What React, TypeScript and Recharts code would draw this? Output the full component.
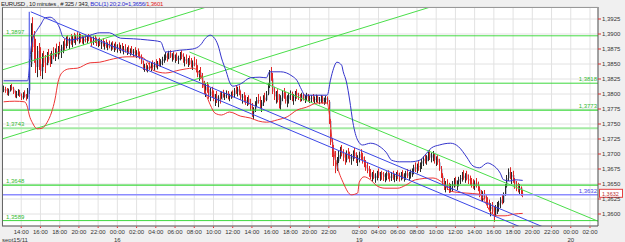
import React from 'react';
import { ComposedChart, Bar, Line, XAxis, YAxis, CartesianGrid, ReferenceLine } from 'recharts';

const FONT = '"Liberation Sans", Arial, sans-serif';

// bar values are pips above 1.3500 (10 minute bars, slot 1..325)
const BASE = 1.35;
const toPrice = (v: number) => BASE + v / 10000;

const barHigh = [
  314, 312, 310, 309, 315, 317, 312, 306, 305, 308, 307, 301, 303, 306, 300, 310,
  358, 418, 428, 405, 392, 380, 385, 378, 368, 372, 365,
  370, 375, 368, 372, 378, 376, 384, 380, 387, 382, 388,
  392, 396, 398, 394, 400, 397, 402, 399, 403, 401,
  400, 398, 396, 399, 397, 400, 398, 395, 396, 398, 394,
  392, 394, 390, 393, 388, 391, 386, 389,
  386, 388, 384, 387, 383, 386, 382, 385, 380, 383, 378,
  381, 376, 380, 375, 378, 373, 376, 371,
  366, 356, 350, 352, 348, 353,
  352, 356, 353, 358, 355, 360, 358, 362,
  366, 370, 368, 372, 373, 368, 371, 366, 369,
  364, 370, 373, 368, 362, 366, 360, 364,
  360, 356, 362, 358, 348, 340, 345,
  335, 322, 318, 320, 316, 310,
  312, 306, 300, 305, 298, 303,
  304, 307, 302, 306, 305, 300, 304, 306,
  310, 315, 312, 314, 306, 300, 303, 298, 295, 298, 292,
  285, 278, 288,
  295, 300, 296, 290, 298, 302, 305,
  318, 340, 345, 335,
  312, 305, 308, 300, 298, 306, 310, 304, 298, 302, 306, 304, 300, 305, 308,
  302, 300, 302, 301, 298, 302, 300, 297,
  298, 300, 296, 299, 298, 295, 298, 297, 294, 297, 296,
  290, 258, 225, 215, 205, 195,
  205, 212, 215, 208, 202, 206, 210, 204, 200,
  206, 210, 203, 198, 204, 208, 202, 196, 190, 186,
  180, 175, 170, 173, 168, 172, 176, 170,
  172, 170, 168, 171, 173, 168, 170, 172, 167, 170, 173, 169,
  170, 173, 168, 172, 175, 170, 174, 176,
  182, 186, 184, 188, 186,
  192, 196, 200, 198, 204, 207, 202, 205, 200, 196, 198, 192,
  180, 168, 160, 155, 158, 152, 150,
  155, 160, 162, 156, 162, 165,
  170, 173, 168, 172, 166, 164,
  160, 158, 156, 160, 154,
  146, 140, 138, 140, 132, 128,
  124, 118, 120, 112, 115, 120,
  122, 128, 132, 136,
  150, 165, 176, 178, 170, 172,
  160, 155, 152, 150, 146, 140,
];

const barLow = [
  303, 302, 298, 297, 304, 306, 300, 294, 293, 297, 295, 290, 291, 294, 289, 292,
  300, 345, 370, 352, 335, 328, 340, 330, 325, 345, 335,
  348, 352, 345, 350, 358, 355, 362, 358, 366, 360, 368,
  372, 376, 380, 375, 382, 378, 385, 382, 388, 384,
  386, 384, 382, 386, 384, 388, 385, 380, 382, 385, 380,
  378, 380, 375, 379, 374, 377, 373, 376,
  372, 374, 370, 373, 369, 372, 368, 371, 366, 369, 365,
  367, 364, 366, 362, 364, 360, 362, 358,
  350, 340, 337, 338, 336, 340,
  338, 342, 339, 344, 341, 346, 345, 348,
  352, 356, 354, 358, 360, 354, 357, 352, 355,
  350, 356, 358, 352, 346, 350, 345, 348,
  344, 340, 346, 336, 328, 322, 325,
  310, 300, 295, 302, 292, 288,
  295, 288, 280, 285, 278, 284,
  292, 294, 290, 293, 291, 288, 292, 294,
  294, 300, 296, 298, 290, 284, 286, 282, 280, 282, 272,
  262, 258, 270,
  278, 284, 276, 270, 280, 286, 288,
  298, 310, 322, 300,
  290, 284, 286, 276, 274, 288, 292, 284, 278, 284, 290, 288, 282, 288, 292,
  290, 287, 288, 289, 285, 288, 287, 285,
  286, 287, 284, 286, 285, 283, 285, 284, 282, 284, 283,
  250, 215, 195, 180, 168, 172,
  185, 192, 196, 188, 182, 186, 192, 186, 182,
  188, 192, 185, 180, 186, 190, 184, 178, 172, 168,
  162, 158, 154, 158, 152, 156, 160, 155,
  157, 155, 153, 156, 158, 154, 155, 157, 153, 155, 158, 154,
  156, 158, 154, 157, 160, 156, 159, 162,
  166, 170, 168, 172, 170,
  175, 180, 184, 182, 188, 190, 186, 188, 184, 180, 182, 172,
  160, 148, 140, 136, 140, 135, 136,
  138, 144, 146, 140, 146, 150,
  154, 157, 152, 156, 150, 148,
  144, 142, 140, 144, 138,
  128, 122, 120, 124, 116, 110,
  104, 96, 100, 87, 95, 100,
  104, 110, 116, 118,
  130, 144, 155, 158, 150, 152,
  142, 138, 136, 132, 130, 128,
];

const barClose = [
  308, 305, 301, 306, 311, 309, 302, 298, 300, 303, 297, 294, 299, 296, 295, 306,
  350, 400, 378, 360, 345, 372, 350, 338, 360, 352, 348,
  362, 356, 350, 368, 362, 372, 366, 375, 370, 378, 384,
  380, 392, 384, 390, 386, 394, 390, 396, 392, 398,
  394, 388, 392, 390, 395, 392, 389, 386, 391, 388, 384,
  388, 383, 386, 380, 385, 379, 382, 378,
  380, 376, 382, 375, 378, 374, 377, 373, 375, 371, 372,
  370, 373, 368, 371, 366, 369, 364, 362,
  352, 344, 346, 341, 345, 343,
  348, 345, 350, 347, 352, 350, 355, 358,
  360, 364, 358, 368, 362, 365, 360, 362, 357,
  360, 366, 362, 355, 358, 352, 356, 350,
  347, 352, 349, 338, 332, 336, 328,
  315, 306, 312, 308, 298, 304,
  300, 292, 296, 288, 294, 290,
  300, 296, 298, 302, 295, 297, 300, 298,
  306, 304, 308, 300, 294, 296, 290, 286, 292, 284, 276,
  268, 275, 284,
  290, 288, 280, 286, 294, 290, 300,
  314, 336, 326, 304,
  296, 300, 290, 282, 294, 302, 296, 288, 292, 298, 300, 294, 296, 302, 298,
  296, 293, 298, 292, 294, 297, 291, 293,
  294, 290, 292, 295, 289, 291, 294, 288, 290, 293, 287,
  255, 220, 205, 190, 175, 188,
  198, 205, 200, 194, 190, 200, 196, 192, 195,
  202, 196, 190, 194, 200, 195, 188, 182, 176, 172,
  168, 162, 166, 160, 164, 170, 164, 168,
  166, 162, 164, 168, 163, 160, 166, 162, 164, 168, 165, 163,
  166, 160, 164, 168, 163, 166, 170, 172,
  178, 175, 180, 178, 184,
  188, 192, 188, 196, 200, 194, 198, 202, 190, 192, 186, 175,
  164, 152, 146, 148, 144, 140, 146,
  150, 156, 150, 154, 158, 160,
  164, 160, 166, 158, 156, 152,
  150, 146, 152, 148, 142,
  132, 128, 134, 126, 120, 116,
  108, 112, 104, 98, 110, 114,
  118, 124, 120, 132,
  146, 160, 170, 162, 165, 156,
  150, 146, 140, 144, 134, 132,
];
const firstOpen = 306;

// Bollinger 20;2.0: [slot, pips]
const upperBand: [number, number][] = [
  [1, 322], [16, 322], [17, 340], [18, 373], [19, 390], [22, 407], [24, 415], [27, 427],
  [30, 428], [33, 423], [36, 410], [38, 395], [42, 390], [49, 393], [55, 398], [61, 402],
  [67, 402], [74, 393], [82, 392], [91, 390], [99, 387], [102, 370], [111, 373], [119, 375],
  [124, 382], [127, 393], [130, 398], [132, 395], [135, 380], [137, 360], [140, 337],
  [142, 320], [144, 313], [149, 317], [155, 327], [161, 328], [165, 327], [167, 337],
  [174, 337], [181, 330], [184, 323], [187, 307], [189, 298], [197, 298], [203, 298],
  [205, 323], [207, 343], [209, 353], [212, 348], [213, 337], [215, 320], [217, 290],
  [219, 253], [222, 223], [225, 215], [230, 218], [236, 212], [240, 202], [243, 190],
  [248, 187], [255, 187], [261, 190], [264, 198], [268, 210], [273, 215], [280, 218],
  [285, 212], [290, 195], [294, 180], [298, 177], [303, 185], [306, 182], [311, 168],
  [313, 157], [317, 155], [320, 157], [325, 156],
];
const lowerBand: [number, number][] = [
  [1, 287], [8, 288], [14, 287], [16, 277], [17, 265], [19, 252], [22, 242], [25, 243],
  [28, 252], [31, 270], [33, 290], [35, 320], [38, 337], [42, 342], [47, 343], [55, 352],
  [61, 353], [67, 357], [78, 362], [86, 362], [91, 353], [94, 340], [102, 335], [111, 340],
  [119, 343], [124, 332], [127, 303], [130, 282], [133, 268], [137, 265], [142, 270],
  [149, 263], [155, 260], [160, 255], [165, 253], [172, 257], [178, 262], [184, 273],
  [190, 278], [197, 285], [203, 285], [204, 273], [206, 223], [209, 182], [213, 152],
  [218, 132], [222, 135], [223, 153], [226, 162], [230, 157], [234, 147], [239, 143],
  [247, 143], [252, 148], [258, 157], [269, 160], [275, 152], [280, 138], [289, 135],
  [298, 133], [302, 118], [305, 103], [309, 97], [314, 97], [320, 100], [325, 101],
];

const priceTicks = [
  1.36, 1.3625, 1.365, 1.3675, 1.37, 1.3725, 1.375, 1.3775, 1.38, 1.3825, 1.385, 1.3875, 1.39, 1.3925,
];

// horizontal support / resistance levels
const greenLevels = [
  { value: 1.3897, side: 'left', width: 1, color: '#45dc45' },
  { value: 1.3818, side: 'right', width: 1, color: '#3cd83c' },
  { value: 1.3773, side: 'right', width: 1.2, color: '#3cd83c' },
  { value: 1.3743, side: 'left', width: 2, color: '#a4eaa4' },
  { value: 1.3648, side: 'left', width: 1.2, color: '#3cd83c' },
  { value: 1.3589, side: 'left', width: 1, color: '#3cd83c' },
];
const lastPrice = 1.3632;

// drawn trend lines: [[slot, pips], [slot, pips]]
const blueTrends = [
  [[18, 437], [372, 40]],
  [[55, 380], [372, 24]],
  [[17, 437], [17, 273]],
];
const greenTrends = [
  [[0, 340], [372, 646]],
  [[0, 225], [372, 531]],
  [[117, 370], [372, 88]],
];

const SLOTS = 372;
const FRIDAY_LAST = 209;

const slotClock = (s: number) => {
  const m = s <= FRIDAY_LAST
    ? 15 * 1440 + 12 * 60 + s * 10
    : 18 * 1440 + 23 * 60 + 50 + (s - FRIDAY_LAST - 1) * 10;
  return { day: Math.floor(m / 1440), hour: Math.floor((m % 1440) / 60), minute: m % 60 };
};

const timeTicks: number[] = [];
for (let s = 6; s <= SLOTS - 2; s++) {
  const t = slotClock(s);
  if (t.minute === 0 && t.hour % 2 === 0) {
    const prev = timeTicks[timeTicks.length - 1];
    if (prev === undefined || s - prev >= 10) timeTicks.push(s);
  }
}

const data: any[] = Array.from({ length: SLOTS + 1 }, (_, s) => {
  const i = s - 1;
  const row: any = { slot: s };
  if (i >= 0 && i < barHigh.length) {
    row.range = [toPrice(barLow[i]), toPrice(barHigh[i])];
    row.open = toPrice(i === 0 ? firstOpen : barClose[i - 1]);
    row.close = toPrice(barClose[i]);
  }
  return row;
});
upperBand.forEach(([s, v]) => { data[s].upper = toPrice(v); });
lowerBand.forEach(([s, v]) => { data[s].lower = toPrice(v); });

const fmt = (v: number) => v.toFixed(4).replace('.', ',');
const pad = (n: number) => (n < 10 ? '0' + n : '' + n);

const OhlcBar = (props: any) => {
  const { x, y, width, height, payload } = props;
  if (!payload || !payload.range) return null;
  const [lo, hi] = payload.range;
  const top = Math.min(y, y + height);
  const h = Math.abs(height);
  const k = h / (hi - lo || 1);
  const yo = top + (hi - payload.open) * k;
  const yc = top + (hi - payload.close) * k;
  const diff = payload.close - payload.open;
  const col = diff > 0.00004 ? '#2a2a2a' : diff < -0.00004 ? '#e02626' : '#8f9abd';
  const cx = Math.round(x + width / 2);
  return (
    <g>
      <rect x={cx + 1} y={Math.min(yo, yc)} width={0.8} height={Math.max(Math.abs(yc - yo), 1)} fill="#b3bcd8" />
      <rect x={cx} y={top} width={1} height={Math.max(h, 1)} fill={col} />
    </g>
  );
};

const PriceTick = ({ x, y, payload }: any) => (
  <g>
    <rect x={x} y={y - 0.5} width={3} height={1} fill="#e03030" />
    <text x={x + 4} y={y + 2.2} fontSize={6} fontFamily={FONT} fill="#333">{fmt(payload.value)}</text>
  </g>
);

const TimeTick = ({ x, y, payload }: any) => {
  const s = payload.value;
  const t = slotClock(s);
  const idx = timeTicks.indexOf(s);
  const prevDay = idx > 0 ? slotClock(timeTicks[idx - 1]).day : -1;
  const newDay = idx > 0 && prevDay !== t.day;
  return (
    <g>
      <rect x={x - 0.5} y={y + 0.5} width={1} height={1.5} fill="#e03030" />
      <text x={x} y={y + 8.2} textAnchor="middle" fontSize={6} fontFamily={FONT} fill="#333">
        {pad(t.hour) + ':' + pad(t.minute)}
      </text>
      {newDay && (
        <text x={x} y={y + 15.5} textAnchor="middle" fontSize={6} fontFamily={FONT} fill="#333">{t.day}</text>
      )}
      {idx === 0 && (
        <text x={2} y={y + 15.5} fontSize={6} fontFamily={FONT} fill="#333">sept15/11</text>
      )}
    </g>
  );
};

const LevelLabel = ({ viewBox, text, side, color }: any) => {
  if (!viewBox) return null;
  const { x, y, width } = viewBox;
  if (side === 'left') {
    return <text x={x + 4} y={y - 2} fontSize={6} fontFamily={FONT} fill={color}>{text}</text>;
  }
  return (
    <text x={x + width - 1} y={y - 2} textAnchor="end" fontSize={6} fontFamily={FONT} fill={color}>{text}</text>
  );
};

const LastPriceLabel = ({ viewBox }: any) => {
  if (!viewBox) return null;
  const { x, y, width } = viewBox;
  const ax = x + width;
  return (
    <g>
      <text x={ax - 1} y={y - 1.5} textAnchor="end" fontSize={6} fontFamily={FONT} fill="#4a4ae8">{fmt(lastPrice)}</text>
      <rect x={ax + 1.5} y={y - 5.5} width={23} height={8} fill="#fff" stroke="#e84040" strokeWidth={1} />
      <text x={ax + 4} y={y + 1} fontSize={5.5} fontFamily={FONT} fill="#c03030">{fmt(lastPrice)}</text>
    </g>
  );
};

export default function App() {
  return (
    <div style={{ position: 'absolute', left: 0, top: 0, width: 625, height: 242, background: '#f0f0f0', overflow: 'hidden' }}>
      <ComposedChart width={625} height={242} data={data} margin={{ top: 7, right: 0, bottom: 0, left: 2 }}>
        <CartesianGrid stroke="#e2e2e2" fill="#ffffff" />
        <XAxis
          dataKey="slot"
          type="number"
          domain={[0, SLOTS]}
          ticks={timeTicks}
          interval={0}
          allowDataOverflow
          height={16}
          tickSize={0}
          tickMargin={0}
          tickLine={false}
          axisLine={{ stroke: '#555' }}
          tick={<TimeTick />}
        />
        <YAxis
          orientation="right"
          type="number"
          domain={[1.358, 1.3945]}
          ticks={priceTicks}
          interval={0}
          allowDataOverflow
          width={27}
          tickSize={0}
          tickMargin={0}
          tickLine={false}
          axisLine={{ stroke: '#555' }}
          tick={<PriceTick />}
        />
        {greenLevels.map((l) => (
          <ReferenceLine
            key={l.value}
            y={l.value}
            stroke={l.color}
            strokeWidth={l.width}
            label={<LevelLabel text={fmt(l.value)} side={l.side} color="#33bb33" />}
          />
        ))}
        {greenTrends.map((seg, i) => (
          <ReferenceLine
            key={'g' + i}
            segment={seg.map(([s, v]) => ({ x: s, y: toPrice(v) }))}
            stroke="#4ade4a"
            strokeWidth={1}
            ifOverflow="hidden"
          />
        ))}
        <ReferenceLine y={lastPrice} stroke="#8c8cff" strokeWidth={1.5} label={<LastPriceLabel />} />
        <Bar dataKey="range" barSize={1} shape={<OhlcBar />} isAnimationActive={false} />
        <Line dataKey="upper" type="monotone" stroke="#3434cc" strokeWidth={1} dot={false} connectNulls isAnimationActive={false} />
        <Line dataKey="lower" type="monotone" stroke="#ee3434" strokeWidth={1} dot={false} connectNulls isAnimationActive={false} />
        {blueTrends.map((seg, i) => (
          <ReferenceLine
            key={'b' + i}
            segment={seg.map(([s, v]) => ({ x: s, y: toPrice(v) }))}
            stroke="#3a46e6"
            strokeWidth={1}
            ifOverflow="hidden"
          />
        ))}
      </ComposedChart>
      <div style={{ position: 'absolute', left: 2, top: 7, width: 596, height: 219, borderLeft: '1px solid #666', borderTop: '1px solid #999', pointerEvents: 'none', boxSizing: 'border-box' }} />
      <svg width={625} height={8} style={{ position: 'absolute', left: 0, top: 0 }}>
        <text x={1} y={6} fontSize={6} fontFamily={FONT} letterSpacing={-0.25}>
          <tspan fill="#222">EURUSD , 10 minutes , # 325 / 343, </tspan>
          <tspan fill="#2a2ad0">BOL(1) 20;2.0=1,3656/</tspan>
          <tspan fill="#e02020">1,3601</tspan>
        </text>
      </svg>
    </div>
  );
}
